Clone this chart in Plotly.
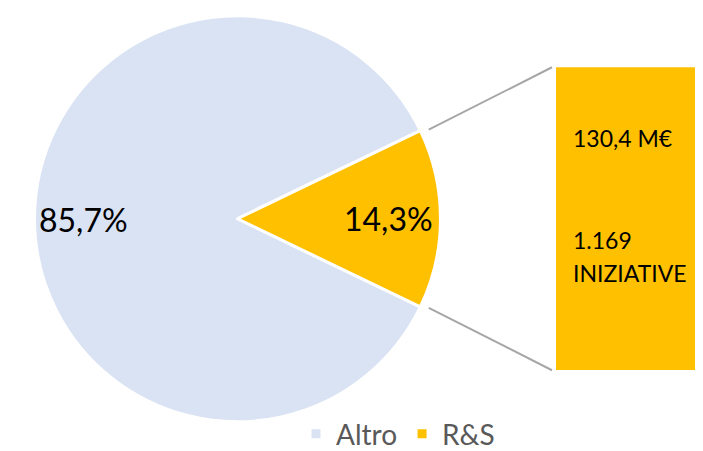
import math
import plotly.graph_objects as go

W, H = 703, 451

labels = ["Altro", "R&S"]
values = [85.7, 14.3]
colors = ["#DAE3F3", "#FFC000"]

box_value = [130.4]
box_lines = ["130,4 M€", "1.169", "INIZIATIVE"]

def px(x):
    return x / W

def py(y):
    return 1 - y / H

# pie geometry (pixels)
cx, cy, r = 229.5, 217.0, 209.0
rs_frac = values[1] / sum(values)
half = rs_frac * math.pi  # half angle of R&S slice in radians
rotation = 90 + math.degrees(half)

# box geometry (pixels)
bx0, bx1, by0, by1 = 548, 702, 61, 373

fig = go.Figure()
fig.add_trace(go.Pie(
    labels=labels, values=values, sort=False, direction="counterclockwise",
    rotation=rotation,
    marker=dict(colors=colors, line=dict(color="white", width=3)),
    textinfo="none", hoverinfo="label+percent",
    domain=dict(x=[px(cx - r), px(cx + r)], y=[py(cy + r), py(cy - r)]),
    showlegend=True,
))

fig.add_trace(go.Bar(
    x=[0], y=box_value, marker=dict(color=colors[1], line=dict(width=0)),
    width=1, xaxis="x", yaxis="y", showlegend=False, hoverinfo="skip",
))

# percentage labels
tot = sum(values)
pct_pos = [(75, 217.5), (380, 217)]
for v, (lx, ly) in zip(values, pct_pos):
    fig.add_annotation(
        x=px(lx), y=py(ly), xref="paper", yref="paper",
        text=f"{v / tot * 100:.1f}%".replace(".", ","), showarrow=False,
        font=dict(size=32, color="black", family="Lato"),
        xanchor="center", yanchor="middle",
    )

# box text
for t, ly in zip(box_lines, [134, 239, 273]):
    fig.add_annotation(
        x=px(563), y=py(ly), xref="paper", yref="paper", text=t,
        showarrow=False, align="left",
        font=dict(size=23, color="black", family="Lato"),
        xanchor="left", yanchor="middle",
    )

# connector lines from slice edges to box corners
ex = cx + r * math.cos(half)
ey_top = cy - r * math.sin(half)
ey_bot = cy + r * math.sin(half)
for (x0, y0, x1, y1) in [(ex + 3, ey_top - 1, bx0 - 4, by0), (ex + 3, ey_bot + 1, bx0 - 4, by1)]:
    fig.add_shape(type="line", xref="paper", yref="paper",
                  x0=px(x0), y0=py(y0), x1=px(x1), y1=py(y1),
                  line=dict(color="#A6A6A6", width=2))

fig.update_layout(
    width=W, height=H, margin=dict(l=0, r=0, t=0, b=0),
    paper_bgcolor="white", plot_bgcolor="white",
    font=dict(family="Lato"),
    xaxis=dict(domain=[px(bx0), px(bx1)], range=[-0.5, 0.5], visible=False, fixedrange=True),
    yaxis=dict(domain=[py(by1), py(by0)], range=[0, box_value[0]], visible=False, fixedrange=True),
    bargap=0,
    legend=dict(orientation="h", x=px(390), xanchor="center", y=py(439), yanchor="middle",
                font=dict(size=28, color="#595959", family="Lato"),
                bgcolor="rgba(0,0,0,0)"),
)

fig.write_html("out.html")
